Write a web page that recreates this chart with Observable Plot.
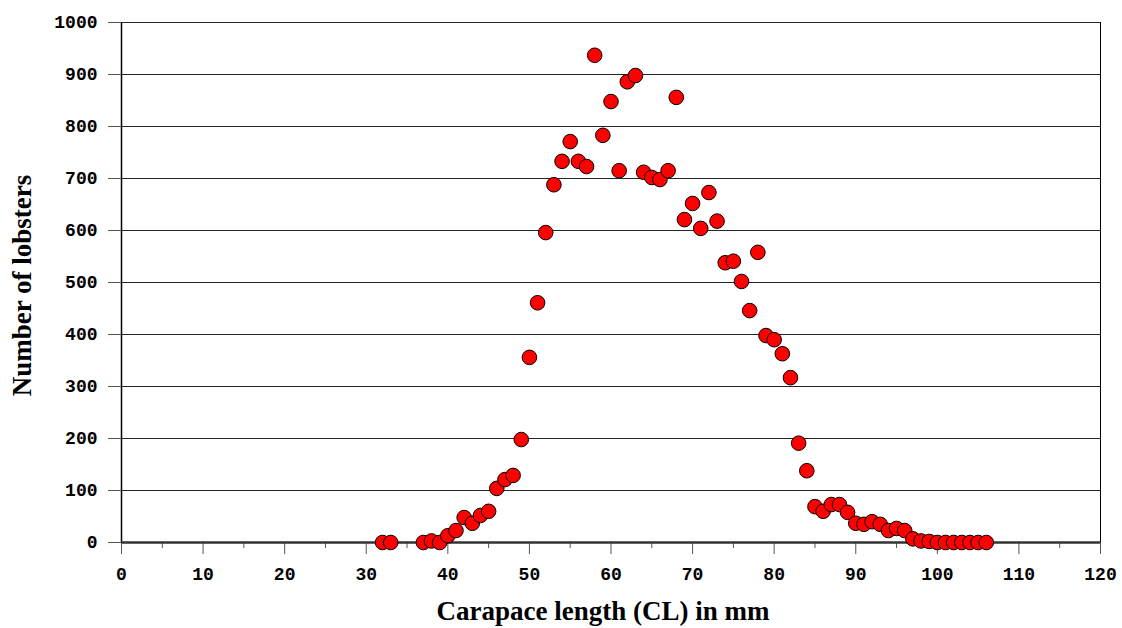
<!DOCTYPE html>
<html>
<head>
<meta charset="utf-8">
<script src="https://cdn.jsdelivr.net/npm/d3@7"></script>
<script src="https://cdn.jsdelivr.net/npm/@observablehq/plot@0.6"></script>
<style>
  html, body { margin: 0; padding: 0; background: #fff; }
  #chart { width: 1122px; height: 628px; }
</style>
</head>
<body>
<div id="chart"></div>
<script>
// Carapace length (mm)
const lengths = [32,33,37,38,39,40,41,42,43,44,45,46,47,48,49,50,51,52,53,54,55,56,57,58,59,60,61,62,63,64,65,66,67,68,69,70,71,72,73,74,75,76,77,78,79,80,81,82,83,84,85,86,87,88,89,90,91,92,93,94,95,96,97,98,99,100,101,102,103,104,105,106];
// Number of lobsters
const counts = [0,0,0,3,0,13,23,48,37,52,60,104,121,129,198,356,461,596,688,733,771,733,723,937,783,848,715,886,898,712,702,698,715,856,621,652,604,673,618,538,541,502,446,558,398,390,363,317,191,138,69,60,73,73,58,37,35,40,35,23,27,23,7,3,2,0,0,0,0,0,0,0];

const xTicks = [0,10,20,30,40,50,60,70,80,90,100,110,120];
const xMinorTicks = [5,15,25,35,45,55,65,75,85,95,105,115];
const yTicks = [0,100,200,300,400,500,600,700,800,900,1000];

const xTitle = "Carapace length (CL) in mm";
const yTitle = "Number of lobsters";

const data = lengths.map((x, i) => ({x, y: counts[i]}));

const tickFont = {fontFamily: "Liberation Mono", fontSize: 18, fontWeight: "bold"};
const titleFont = {fontFamily: "Liberation Serif", fontSize: 27, fontWeight: "bold"};

const chart = Plot.plot({
  width: 1122,
  height: 628,
  marginLeft: 121,
  marginRight: 22,
  marginTop: 22,
  marginBottom: 86,
  x: {domain: [0, 120]},
  y: {domain: [0, 1000]},
  style: {background: "#fff", color: "#000"},
  marks: [
    Plot.ruleY(yTicks.filter(d => d > 0), {stroke: "#000", strokeWidth: 1, strokeOpacity: 0.85}),
    Plot.ruleX([0], {stroke: "#000", strokeWidth: 1.5}),
    Plot.ruleX([120], {stroke: "#000", strokeWidth: 1}),
    Plot.axisY({ticks: yTicks, tickFormat: d => String(d), tickSize: 13, tickPadding: 11, label: null, ...tickFont, stroke: "#555"}),
    Plot.axisX({ticks: xTicks, tickFormat: d => String(d), tickSize: 12, tickPadding: 13, label: null, ...tickFont, stroke: "#555"}),
    Plot.axisX({ticks: xMinorTicks, tickSize: 6, text: null, label: null, stroke: "#555"}),
    Plot.ruleY([0], {stroke: "#333", strokeWidth: 2.5}),
    Plot.dot(data, {x: "x", y: "y", r: 7.3, fill: "#ff0000", stroke: "#000", strokeWidth: 1, fillOpacity: 1}),
    Plot.text([xTitle], {text: d => d, frameAnchor: "bottom", textAnchor: "middle", dy: 77, dx: -8, ...titleFont, fill: "#000"}),
    Plot.text([yTitle], {text: d => d, frameAnchor: "left", textAnchor: "middle", dx: -99, dy: 3, rotate: -90, ...titleFont, fill: "#000"})
  ]
});
document.getElementById("chart").appendChild(chart);
</script>
</body>
</html>
